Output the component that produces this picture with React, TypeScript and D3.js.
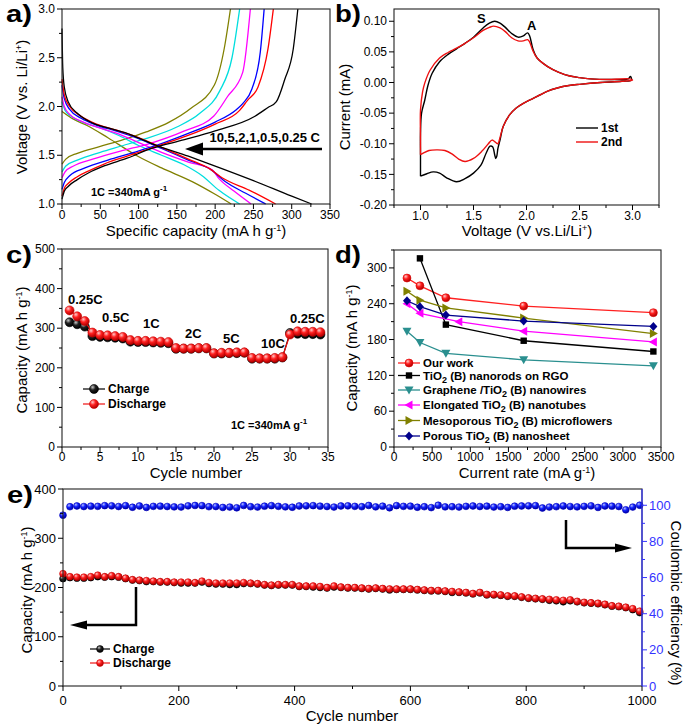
import React from "react";
import * as d3 from "d3";

const FONT = "Arial, 'Liberation Sans', Helvetica, sans-serif";

// ---------------- Panel a: charge/discharge profiles ----------------
const rateNamesA = ["0.25C", "0.5C", "1C", "2C", "5C", "10C"];
const rateColorsA = ["#000000", "#ff0000", "#0000ff", "#ff00ff", "#00dede", "#808000"];
const chg025 = [[0,1.05],[3,1.13],[8,1.18],[20,1.25],[35,1.32],[55,1.39],[85,1.47],[117,1.57],[160,1.66],[200,1.75],[252,1.9],[269,1.99],[280,2.05],[291,2.28],[302,2.59],[308,3.0]];
const chg05 = [[0,1.08],[3,1.16],[8,1.21],[20,1.28],[35,1.34],[55,1.41],[85,1.49],[112,1.56],[160,1.69],[200,1.82],[232,1.96],[242,2.06],[256,2.2],[269,2.59],[276,3.0]];
const chg1 = [[0,1.15],[3,1.22],[10,1.29],[30,1.37],[60,1.45],[90,1.52],[115,1.58],[160,1.71],[200,1.84],[228,1.97],[236,2.03],[248,2.18],[259,2.56],[264,3.0]];
const chg2 = [[0,1.27],[4,1.33],[15,1.39],[40,1.46],[80,1.55],[110,1.61],[160,1.75],[198,1.9],[216,2.1],[236,2.35],[246,3.0]];
const chg5 = [[0,1.33],[5,1.39],[20,1.45],[50,1.53],[80,1.6],[105,1.66],[150,1.79],[180,1.93],[206,2.16],[222,2.5],[232,3.0]];
const chg10 = [[0,1.41],[5,1.46],[20,1.52],[50,1.59],[80,1.66],[110,1.74],[140,1.84],[168,1.98],[199,2.22],[212,2.6],[220,3.0]];
const dis025 = [[0,2.8],[1,2.4],[3,2.2],[8,2.05],[20,1.93],[40,1.83],[60,1.78],[90,1.71],[117,1.62],[165,1.49],[193,1.41],[250,1.24],[300,1.08],[326,1.0]];
const dis05 = [[0,2.28],[3,2.12],[10,2.0],[25,1.9],[45,1.82],[70,1.76],[100,1.68],[130,1.58],[165,1.46],[193,1.36],[209,1.27],[245,1.14],[279,1.0]];
const dis1 = [[0,2.22],[3,2.08],[10,1.97],[25,1.88],[45,1.81],[70,1.75],[100,1.67],[130,1.57],[165,1.45],[195,1.35],[213,1.23],[240,1.11],[266,1.0]];
const dis2 = [[0,2.1],[3,2.0],[10,1.92],[25,1.85],[45,1.79],[70,1.73],[100,1.63],[130,1.53],[165,1.43],[196,1.35],[205,1.26],[225,1.13],[247,1.0]];
const dis5 = [[0,2.05],[4,1.96],[12,1.9],[30,1.83],[50,1.78],[75,1.7],[100,1.6],[130,1.5],[160,1.4],[183,1.29],[205,1.14],[232,1.0]];
const dis10 = [[0,1.95],[15,1.87],[34,1.8],[60,1.68],[99,1.49],[130,1.37],[170,1.23],[200,1.1],[221,1.0]];
const chargeA = [chg025, chg05, chg1, chg2, chg5, chg10];
const dischargeA = [dis025, dis05, dis1, dis2, dis5, dis10];
const ticksAx = [0, 50, 100, 150, 200, 250, 300, 350];
const ticksAy = [1.0, 1.5, 2.0, 2.5, 3.0];

// ---------------- Panel b: CV ----------------
const cv1st = [[1.0,-0.153],[1.0,-0.12],[1.0,-0.083],[1.01,-0.05],[1.04,-0.029],[1.07,-0.005],[1.11,0.015],[1.18,0.034],[1.26,0.046],[1.34,0.055],[1.42,0.064],[1.5,0.074],[1.59,0.089],[1.65,0.097],[1.7,0.1],[1.75,0.097],[1.8,0.09],[1.86,0.08],[1.92,0.074],[1.97,0.076],[2.01,0.081],[2.03,0.076],[2.06,0.055],[2.1,0.04],[2.2,0.026],[2.3,0.017],[2.4,0.011],[2.5,0.008],[2.6,0.006],[2.8,0.005],[2.96,0.006],[2.98,0.01],[2.99,0.004],[2.9,0.002],[2.7,0.0],[2.5,-0.003],[2.4,-0.005],[2.29,-0.009],[2.2,-0.014],[2.13,-0.02],[2.05,-0.027],[1.97,-0.034],[1.9,-0.042],[1.84,-0.053],[1.78,-0.072],[1.75,-0.094],[1.73,-0.108],[1.72,-0.12],[1.71,-0.124],[1.7,-0.118],[1.68,-0.105],[1.656,-0.104],[1.62,-0.115],[1.57,-0.135],[1.5,-0.148],[1.42,-0.157],[1.34,-0.162],[1.25,-0.156],[1.18,-0.148],[1.12,-0.146],[1.06,-0.149],[1.0,-0.153]];
const cv2nd = [[1.0,-0.118],[1.0,-0.09],[1.0,-0.045],[1.02,-0.015],[1.04,-0.001],[1.09,0.02],[1.18,0.04],[1.26,0.049],[1.34,0.056],[1.42,0.064],[1.5,0.073],[1.59,0.085],[1.65,0.09],[1.69,0.092],[1.75,0.089],[1.8,0.083],[1.86,0.073],[1.92,0.068],[1.97,0.068],[2.01,0.07],[2.03,0.066],[2.06,0.052],[2.1,0.04],[2.2,0.026],[2.3,0.017],[2.4,0.011],[2.5,0.008],[2.6,0.006],[2.8,0.005],[2.97,0.006],[3.0,0.004],[2.9,0.002],[2.7,0.0],[2.5,-0.003],[2.4,-0.005],[2.29,-0.009],[2.2,-0.014],[2.13,-0.02],[2.05,-0.027],[1.97,-0.034],[1.9,-0.042],[1.84,-0.053],[1.78,-0.072],[1.75,-0.09],[1.73,-0.1],[1.71,-0.098],[1.674,-0.094],[1.64,-0.1],[1.58,-0.112],[1.5,-0.124],[1.42,-0.129],[1.36,-0.125],[1.3,-0.117],[1.23,-0.111],[1.15,-0.11],[1.08,-0.111],[1.03,-0.115],[1.0,-0.118]];
const ticksBx = [1.0, 1.5, 2.0, 2.5, 3.0];
const ticksBy = [-0.2, -0.15, -0.1, -0.05, 0, 0.05, 0.1];

// ---------------- Panel c: rate capability ----------------
const cyclesC = [1,2,3,4,5,6,7,8,9,10,11,12,13,14,15,16,17,18,19,20,21,22,23,24,25,26,27,28,29,30,31,32,33,34];
const chargeC = [315,310,304,280,278,277,276,274,266,265,265,264,263,262,248,248,248,249,249,236,236,237,237,238,223,223,223,223,226,288,286,285,285,284];
const dischargeC = [345,330,318,289,283,282,280,278,270,268,268,267,266,265,250,249,249,250,250,237,238,238,239,239,225,224,224,225,227,284,292,291,291,290];
const rateLabelsC = ["0.25C", "0.5C", "1C", "2C", "5C", "10C", "0.25C"];
const ticksCx = [0, 5, 10, 15, 20, 25, 30, 35];
const ticksCy = [0, 100, 200, 300, 400, 500];

// ---------------- Panel d: comparison ----------------
const currentD = [170, 340, 680, 1700, 3400];
const currentRgo = [340, 680, 1700, 3400];
const currentElong = [170, 340, 850, 1700, 3400];
const oursD = [283, 270, 250, 236, 225];
const rgoD = [316, 205, 178, 160];
const grapheneD = [194, 175, 157, 146, 136];
const elongD = [240, 224, 210, 194, 176];
const mesoD = [261, 246, 233, 216, 190];
const porousD = [245, 235, 221, 211, 202];
const ticksDx = [0, 500, 1000, 1500, 2000, 2500, 3000, 3500];
const ticksDy = [0, 60, 120, 180, 240, 300];

// ---------------- Panel e: long cycling ----------------
const cyclesE = d3.range(0, 1000, 12);
const dischargeE = [228,222,221,221,222,225,222,224,222,219,216,215,214,213,212,212,211,211,211,210,213,210,209,209,209,209,210,209,208,206,205,206,206,206,203,203,203,202,200,203,201,200,200,199,198,199,198,197,197,197,197,196,195,194,194,193,192,191,190,188,190,186,186,185,183,183,181,179,178,177,176,175,174,175,172,170,169,168,166,163,162,160,157,152];
const chargeE = [218,220,219,219,220,222,221,222,221,218,215,214,212,212,211,211,210,209,209,209,211,208,207,207,206,206,208,208,207,205,204,205,205,205,202,202,201,200,199,201,200,199,199,198,197,198,197,195,196,196,196,195,194,193,193,192,190,190,189,187,189,185,185,184,182,182,180,178,177,176,174,173,171,173,171,169,168,167,165,162,161,159,155,149];
const effE = [94.5,99.2,99.6,99.3,99.5,99.4,99.8,99.7,99.3,99.8,98.9,99.6,98.8,99.4,99.5,99.3,99.1,99.0,99.7,99.9,99.8,99.2,99.3,98.8,99.0,98.6,99.9,99.2,99.0,99.5,99.8,99.4,99.1,98.9,99.6,99.7,99.8,99.5,99.3,99.0,99.6,99.7,99.4,99.2,99.9,99.1,99.5,98.6,99.8,99.4,99.5,98.9,99.2,98.7,100.0,99.1,99.2,99.0,99.4,99.6,99.3,99.5,99.0,99.2,98.8,99.5,99.6,99.7,99.8,98.5,99.0,99.2,99.6,99.3,99.1,99.4,99.7,98.8,99.6,99.5,99.3,97.5,99.0,100.0];
const ticksEx = [0, 200, 400, 600, 800, 1000];
const ticksEy = [0, 100, 200, 300, 400];
const ticksEy2 = [0, 20, 40, 60, 80, 100];

// ---------------- scales ----------------
const xA = d3.scaleLinear().domain([0, 350]).range([62, 330]);
const yA = d3.scaleLinear().domain([1, 3]).range([204, 9]);
const xB = d3.scaleLinear().domain([0.75, 3.25]).range([394, 659]);
const yB = d3.scaleLinear().domain([-0.2, 0.12]).range([205, 9]);
const xC = d3.scaleLinear().domain([0, 35]).range([62, 328]);
const yC = d3.scaleLinear().domain([0, 500]).range([447, 249]);
const xD = d3.scaleLinear().domain([0, 3500]).range([394, 661]);
const yD = d3.scaleLinear().domain([0, 330]).range([447, 250]);
const xE = d3.scaleLinear().domain([0, 1000]).range([63, 642]);
const yE = d3.scaleLinear().domain([0, 400]).range([686, 489]);
const yE2 = d3.scaleLinear().domain([0, 109]).range([686, 489]);

function minorTicks(major: number[], step: number, lo: number, hi: number) {
  const out: number[] = [];
  for (let i = 0; i < major.length; i++) {
    for (const s of [-1, 1]) {
      const v = +(major[i] + s * step).toFixed(6);
      if (v >= lo - 1e-9 && v <= hi + 1e-9 && !out.includes(v) && !major.some((m) => Math.abs(m - v) < 1e-9)) out.push(v);
    }
  }
  return out;
}

function XAxis({ scale, y, major, minor, fmt, fs = 12, color = "#000", off = 15 }: any) {
  return (
    <g>
      {minor.map((v: number) => (
        <line key={"m" + v} x1={scale(v)} x2={scale(v)} y1={y} y2={y + 3} stroke={color} strokeWidth={1} />
      ))}
      {major.map((v: number) => (
        <g key={"M" + v}>
          <line x1={scale(v)} x2={scale(v)} y1={y} y2={y + 5} stroke={color} strokeWidth={1} />
          <text x={scale(v)} y={y + off} textAnchor="middle" fontSize={fs} fill={color}>{fmt(v)}</text>
        </g>
      ))}
    </g>
  );
}

function YAxis({ scale, x, major, minor, fmt, fs = 12, color = "#000", right = false }: any) {
  const d = right ? 1 : -1;
  return (
    <g>
      {minor.map((v: number) => (
        <line key={"m" + v} x1={x} x2={x + d * 3} y1={scale(v)} y2={scale(v)} stroke={color} strokeWidth={1} />
      ))}
      {major.map((v: number) => (
        <g key={"M" + v}>
          <line x1={x} x2={x + d * 5} y1={scale(v)} y2={scale(v)} stroke={color} strokeWidth={1} />
          <text x={x + d * 7} y={scale(v)} dy="0.35em" textAnchor={right ? "start" : "end"} fontSize={fs} fill={color}>{fmt(v)}</text>
        </g>
      ))}
    </g>
  );
}

function Frame({ x, y }: any) {
  const [x0, x1] = x.range();
  const [y1, y0] = y.range();
  return <rect x={x0} y={y0} width={x1 - x0} height={y1 - y0} fill="none" stroke="#222" strokeWidth={1.1} />;
}

function Ball({ cx, cy, r, grad, stroke }: any) {
  return <circle cx={cx} cy={cy} r={r} fill={`url(#${grad})`} stroke={stroke} strokeWidth={0.6} />;
}

function PanelLabel({ x, y, t }: any) {
  return (
    <text x={x} y={y} fontSize={23} fontWeight="bold" textLength={26} lengthAdjust="spacingAndGlyphs">{t}</text>
  );
}

function Marker({ kind, x, y, color }: any) {
  if (kind === "circle") return <Ball cx={x} cy={y} r={4} grad="gRed" stroke="#d00" />;
  if (kind === "square") return <rect x={x - 3.2} y={y - 3.2} width={6.4} height={6.4} fill={color} />;
  if (kind === "down") return <path d={`M${x - 4.5},${y - 3.5}L${x + 4.5},${y - 3.5}L${x},${y + 4.5}Z`} fill={color} />;
  if (kind === "left") return <path d={`M${x + 3.5},${y - 4.5}L${x + 3.5},${y + 4.5}L${x - 4.5},${y}Z`} fill={color} />;
  if (kind === "right") return <path d={`M${x - 3.5},${y - 4.5}L${x - 3.5},${y + 4.5}L${x + 4.5},${y}Z`} fill={color} />;
  return <path d={`M${x},${y - 4.5}L${x + 4},${y}L${x},${y + 4.5}L${x - 4},${y}Z`} fill={color} />;
}

export default function App() {
  const lineA = d3.line<number[]>().x((d) => xA(d[0])).y((d) => yA(d[1])).curve(d3.curveMonotoneX);
  const lineB = d3.line<number[]>().x((d) => xB(d[0])).y((d) => yB(d[1])).curve(d3.curveCatmullRom.alpha(0.5));
  const lineC = (ys: number[]) => d3.line<number>().x((_, i) => xC(cyclesC[i])).y((d) => yC(d))(ys) as string;
  const lineD = (xs: number[], ys: number[]) => d3.line<number>().x((_, i) => xD(xs[i])).y((d) => yD(d))(ys) as string;

  const seriesD = [
    { name: ["Our work"], xs: currentD, ys: oursD, color: "#ff2020", kind: "circle" },
    { name: ["TiO", "2", " (B) nanorods on RGO"], xs: currentRgo, ys: rgoD, color: "#000000", kind: "square" },
    { name: ["Graphene /TiO", "2", " (B) nanowires"], xs: currentD, ys: grapheneD, color: "#2a8f8f", kind: "down" },
    { name: ["Elongated TiO", "2", " (B) nanotubes"], xs: currentElong, ys: elongD, color: "#ff00ff", kind: "left" },
    { name: ["Mesoporous TiO", "2", " (B) microflowers"], xs: currentD, ys: mesoD, color: "#808000", kind: "right" },
    { name: ["Porous TiO", "2", " (B) nanosheet"], xs: currentD, ys: porousD, color: "#00008b", kind: "diamond" },
  ];
  const legendDY = [363, 375.5, 390, 405, 420.5, 436];
  const rateLabelPos = [[68, 304], [102, 322], [143, 328], [185, 338], [223, 343], [261, 348], [290, 323]];

  const f1 = (v: number) => v.toFixed(1);
  const f2 = (v: number) => v.toFixed(2);
  const f0 = (v: number) => String(v);

  return (
    <svg width={685} height={725} style={{ position: "absolute", left: 0, top: 0, background: "#fff" }} fontFamily={FONT}>
      <defs>
        <radialGradient id="gRed" cx="35%" cy="30%" r="70%">
          <stop offset="0%" stopColor="#ffc8c8" />
          <stop offset="45%" stopColor="#ff2020" />
          <stop offset="100%" stopColor="#b00000" />
        </radialGradient>
        <radialGradient id="gBlack" cx="35%" cy="30%" r="70%">
          <stop offset="0%" stopColor="#c8c8c8" />
          <stop offset="45%" stopColor="#202020" />
          <stop offset="100%" stopColor="#000" />
        </radialGradient>
        <radialGradient id="gBlue" cx="35%" cy="30%" r="70%">
          <stop offset="0%" stopColor="#b8c0ff" />
          <stop offset="45%" stopColor="#1020ff" />
          <stop offset="100%" stopColor="#0000a0" />
        </radialGradient>
      </defs>

      {/* ================= Panel a ================= */}
      <PanelLabel x={6} y={22} t="a)" />
      {[5, 4, 3, 2, 1, 0].map((i) => (
        <g key={"a" + i} fill="none" stroke={rateColorsA[i]} strokeWidth={1.3}>
          <path d={lineA(chargeA[i] as any) as string} />
          <path d={lineA(dischargeA[i] as any) as string} />
          <title>{rateNamesA[i]}</title>
        </g>
      ))}
      <Frame x={xA} y={yA} />
      <XAxis scale={xA} y={204} major={ticksAx} minor={minorTicks(ticksAx, 25, 0, 350)} fmt={f0} />
      <YAxis scale={yA} x={62} major={ticksAy} minor={minorTicks(ticksAy, 0.25, 1, 3)} fmt={f1} />
      <text transform="translate(27,107) rotate(-90)" textAnchor="middle" fontSize={15}>
        Voltage (V vs. Li/Li<tspan dy={-5} fontSize={9}>+</tspan><tspan dy={5}>)</tspan>
      </text>
      <text x={196} y={236} textAnchor="middle" fontSize={15}>
        Specific capacity{"\u00A0"}(mA h g<tspan dy={-5} fontSize={9}>-1</tspan><tspan dy={5}>)</tspan>
      </text>
      <line x1={322} x2={198} y1={149} y2={149} stroke="#000" strokeWidth={2.5} />
      <path d="M185,149L203,142.5L203,155.5Z" fill="#000" />
      <text x={320} y={142} textAnchor="end" fontSize={13} fontWeight="bold">10,5,2,1,0.5,0.25 C</text>
      <text x={91} y={196} fontSize={11} fontWeight="bold">
        1C =340mA g<tspan dy={-5} fontSize={8}>-1</tspan>
      </text>

      {/* ================= Panel b ================= */}
      <PanelLabel x={335} y={22} t="b)" />
      <path d={lineB(cv1st as any) as string} fill="none" stroke="#000" strokeWidth={1.4} />
      <path d={lineB(cv2nd as any) as string} fill="none" stroke="#ee1111" strokeWidth={1.4} />
      <Frame x={xB} y={yB} />
      <XAxis scale={xB} y={205} major={ticksBx} minor={minorTicks(ticksBx, 0.25, 0.75, 3.25)} fmt={f1} />
      <YAxis scale={yB} x={394} major={ticksBy} minor={minorTicks(ticksBy, 0.025, -0.2, 0.12)} fmt={f2} />
      <text transform="translate(350,107) rotate(-90)" textAnchor="middle" fontSize={15}>Current (mA)</text>
      <text x={527} y={236} textAnchor="middle" fontSize={15}>
        Voltage (V vs.Li/Li<tspan dy={-5} fontSize={9}>+</tspan><tspan dy={5}>)</tspan>
      </text>
      <text x={477} y={23} fontSize={13} fontWeight="bold">S</text>
      <text x={527} y={30} fontSize={13} fontWeight="bold">A</text>
      <line x1={576} x2={598} y1={128} y2={128} stroke="#000" strokeWidth={1.4} />
      <text x={601} y={128} dy="0.35em" fontSize={12} fontWeight="bold">1st</text>
      <line x1={576} x2={598} y1={142} y2={142} stroke="#ee1111" strokeWidth={1.4} />
      <text x={601} y={142} dy="0.35em" fontSize={12} fontWeight="bold">2nd</text>

      {/* ================= Panel c ================= */}
      <PanelLabel x={6} y={263} t="c)" />
      <path d={lineC(chargeC)} fill="none" stroke="#000" strokeWidth={1.2} />
      {chargeC.map((v, i) => <Ball key={"cc" + i} cx={xC(cyclesC[i])} cy={yC(v)} r={4.5} grad="gBlack" stroke="#000" />)}
      <path d={lineC(dischargeC)} fill="none" stroke="#ee1111" strokeWidth={1.2} />
      {dischargeC.map((v, i) => <Ball key={"cd" + i} cx={xC(cyclesC[i])} cy={yC(v)} r={4.5} grad="gRed" stroke="#c00" />)}
      <Frame x={xC} y={yC} />
      <XAxis scale={xC} y={447} major={ticksCx} minor={minorTicks(ticksCx, 2.5, 0, 35)} fmt={f0} off={14} />
      <YAxis scale={yC} x={62} major={ticksCy} minor={minorTicks(ticksCy, 50, 0, 500)} fmt={f0} />
      {rateLabelsC.map((t, i) => (
        <text key={"rl" + i} x={rateLabelPos[i][0]} y={rateLabelPos[i][1]} fontSize={13} fontWeight="bold">{t}</text>
      ))}
      <line x1={83} x2={105} y1={389} y2={389} stroke="#000" strokeWidth={1.2} />
      <Ball cx={94} cy={389} r={4.5} grad="gBlack" stroke="#000" />
      <text x={108} y={389} dy="0.35em" fontSize={12} fontWeight="bold">Charge</text>
      <line x1={83} x2={105} y1={404} y2={404} stroke="#ee1111" strokeWidth={1.2} />
      <Ball cx={94} cy={404} r={4.5} grad="gRed" stroke="#c00" />
      <text x={108} y={404} dy="0.35em" fontSize={12} fontWeight="bold">Discharge</text>
      <text x={231} y={429} fontSize={11} fontWeight="bold">
        1C =340mA g<tspan dy={-5} fontSize={8}>-1</tspan>
      </text>
      <text transform="translate(27,350) rotate(-90)" textAnchor="middle" fontSize={15}>
        Capacity{"\u00A0"}(mA h g<tspan dy={-5} fontSize={9}>-1</tspan><tspan dy={5}>)</tspan>
      </text>
      <text x={196} y={478} textAnchor="middle" fontSize={15}>Cycle number</text>

      {/* ================= Panel d ================= */}
      <PanelLabel x={335} y={263} t="d)" />
      {seriesD.map((s, k) => (
        <g key={"d" + k}>
          <path d={lineD(s.xs, s.ys)} fill="none" stroke={s.color} strokeWidth={1.3} />
          {s.ys.map((v, i) => <Marker key={i} kind={s.kind} x={xD(s.xs[i])} y={yD(v)} color={s.color} />)}
        </g>
      ))}
      {seriesD.map((s, k) => (
        <g key={"dl" + k}>
          <line x1={398} x2={420} y1={legendDY[k]} y2={legendDY[k]} stroke={s.color} strokeWidth={1.3} />
          <Marker kind={s.kind} x={409} y={legendDY[k]} color={s.color} />
          <text x={423} y={legendDY[k]} dy="0.35em" fontSize={11.5} fontWeight="bold">
            {s.name[0]}
            {s.name.length > 1 && <tspan dy={3} fontSize={9}>{s.name[1]}</tspan>}
            {s.name.length > 1 && <tspan dy={-3}>{s.name[2]}</tspan>}
          </text>
        </g>
      ))}
      <Frame x={xD} y={yD} />
      <XAxis scale={xD} y={447} major={ticksDx} minor={minorTicks(ticksDx, 250, 0, 3500)} fmt={f0} off={14} />
      <YAxis scale={yD} x={394} major={ticksDy} minor={minorTicks(ticksDy, 30, 0, 330)} fmt={f0} />
      <text transform="translate(357,348) rotate(-90)" textAnchor="middle" fontSize={15}>
        Capacity{"\u00A0"}(mA h g<tspan dy={-5} fontSize={9}>-1</tspan><tspan dy={5}>)</tspan>
      </text>
      <text x={527} y={478} textAnchor="middle" fontSize={15}>
        Current rate{"\u00A0"}(mA g<tspan dy={-5} fontSize={9}>-1</tspan><tspan dy={5}>)</tspan>
      </text>

      {/* ================= Panel e ================= */}
      <PanelLabel x={7} y={503} t="e)" />
      {effE.map((v, i) => <Ball key={"ee" + i} cx={xE(cyclesE[i])} cy={yE2(v)} r={3.4} grad="gBlue" stroke="#0000c0" />)}
      {chargeE.map((v, i) => <Ball key={"ec" + i} cx={xE(cyclesE[i])} cy={yE(v)} r={3.4} grad="gBlack" stroke="#000" />)}
      {dischargeE.map((v, i) => <Ball key={"ed" + i} cx={xE(cyclesE[i])} cy={yE(v)} r={3.4} grad="gRed" stroke="#c00" />)}
      <rect x={63} y={489} width={579} height={197} fill="none" stroke="#222" strokeWidth={1.1} />
      <line x1={642} x2={642} y1={489} y2={686} stroke="#3333ff" strokeWidth={1.2} />
      <XAxis scale={xE} y={686} major={ticksEx} minor={minorTicks(ticksEx, 100, 0, 1000)} fmt={f0} fs={13} off={18.5} />
      <YAxis scale={yE} x={63} major={ticksEy} minor={minorTicks(ticksEy, 50, 0, 400)} fmt={f0} fs={13} />
      <YAxis scale={yE2} x={642} right major={ticksEy2} minor={minorTicks(ticksEy2, 10, 0, 109)} fmt={f0} fs={13} color="#3333ff" />
      <path d="M136,587V625H82" fill="none" stroke="#000" strokeWidth={2.5} />
      <path d="M70,625L87,620.5L87,629.5Z" fill="#000" />
      <path d="M566,520V548H620" fill="none" stroke="#000" strokeWidth={2.5} />
      <path d="M632,548L615,543.5L615,552.5Z" fill="#000" />
      <line x1={90} x2={110} y1={649} y2={649} stroke="#000" strokeWidth={1.2} />
      <Ball cx={100} cy={649} r={3.4} grad="gBlack" stroke="#000" />
      <text x={113} y={649} dy="0.35em" fontSize={12} fontWeight="bold">Charge</text>
      <line x1={90} x2={110} y1={663} y2={663} stroke="#ee1111" strokeWidth={1.2} />
      <Ball cx={100} cy={663} r={3.4} grad="gRed" stroke="#c00" />
      <text x={113} y={663} dy="0.35em" fontSize={12} fontWeight="bold">Discharge</text>
      <text transform="translate(32,590) rotate(-90)" textAnchor="middle" fontSize={15}>
        Capacity (mA h g<tspan dy={-5} fontSize={9}>-1</tspan><tspan dy={5}>)</tspan>
      </text>
      <text transform="translate(671,603) rotate(90)" textAnchor="middle" fontSize={15}>Coulombic efficiency (%)</text>
      <text x={352} y={721} textAnchor="middle" fontSize={15}>Cycle number</text>
    </svg>
  );
}
